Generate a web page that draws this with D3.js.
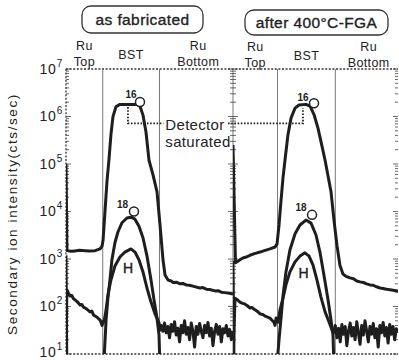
<!DOCTYPE html>
<html>
<head>
<meta charset="utf-8">
<script src="https://cdn.jsdelivr.net/npm/d3@7"></script>
<style>
  body { margin: 0; background: #fff; }
  text { font-family: "Liberation Sans", Arial, sans-serif; fill: #222; }
</style>
</head>
<body>
<div id="chart"></div>
<script>
// SIMS depth profiles, x = sputter time (arbitrary, 0-100 per panel), y = counts/sec
const panelTitles = ["as fabricated", "after 400\u00b0C-FGA"];
const layerEdges = [[22, 56], [27, 62]]; // Ru top / BST / Ru bottom boundaries
const layerNames = [["Ru", "Top"], ["BST"], ["Ru", "Bottom"]];
const yTicks = [1e1, 1e2, 1e3, 1e4, 1e5, 1e6, 1e7];

const left16O = [[0,1e5],[0.6,1500],[3,1450],[5.4,1480],[8,1520],[11.4,1500],[14,1470],[17.4,1500],
  [20.4,1630],[21.6,1870],[22.2,2500],[23.4,1.07e4],[24.6,4.6e4],[25.7,1.2e5],[26.9,4.1e5],[28.1,9.8e5],
  [29.9,1.6e6],[32.3,1.8e6],[42.5,1.8e6],[44.3,1.65e6],[46.1,1.07e6],[47.9,4.7e5],[49.7,1.2e5],[52.1,5.9e4],
  [54.5,2.6e4],[56.3,5.2e3],[58.1,950],[59.3,460],[61.1,360],[63,345],[64,320],[66,325],[68.3,300],[70,305],
  [72,285],[74,280],[77,262],[80.2,245],[82,250],[84,232],[86,228],[89.2,213],[91,215],[93,200],[95,196],
  [97,192],[100,183]];
const left18O = [[0,1200],[0.5,5],[22.5,5],[23.4,20],[24,52],[25.1,150],[26.3,360],[27.5,960],[29.3,2200],
  [31.1,3700],[33.5,5800],[36.5,7300],[38.9,7600],[41.3,6900],[43.7,4900],[46.1,2800],[48.5,1150],
  [50.9,360],[52.7,138],[54.5,57],[55.7,25],[56.3,5],[100,5]];
const leftH = [[0,5],[0.5,225],[1.5,190],[2.4,166],[3.5,170],[4.5,145],[5.4,138],[6.5,128],[7.5,118],
  [8.4,107],[9.5,110],[10.5,96],[11.4,93],[12.5,88],[13.5,82],[14.4,77],[15.5,80],[16.5,66],[17.4,63],
  [18.5,60],[19.5,55],[20.4,52],[21,46],[21.6,40],[22.2,48],[22.8,47],[24,85],[25.1,175],[26.9,360],
  [29.3,710],[32.3,1100],[35.3,1400],[38.9,1630],[41.3,1400],[43.7,960],[46.1,535],[48.5,245],[50.9,124],
  [53.3,70],[55.7,45],[56.5,32],[57,40],[58,30],[59,45],[60,28],[61,38],[62,22],[63,42],[64,30],[65,48],
  [66,25],[67,35],[68,18],[69,40],[70,28],[71,50],[72,26],[73,36],[74,20],[75,45],[76,30],[77,14],[78,38],
  [79,26],[80,44],[81,30],[82,22],[83,40],[84,28],[85,46],[86,24],[87,35],[88,15],[89,30],[90,42],[91,26],
  [92,38],[93,18],[94,34],[95,28],[96,40],[97,24],[98,33],[99,20],[100,30]];

const right16O = [[0,2.5e5],[1.5,830],[3,900],[4.2,960],[6,1050],[8,1100],[10.3,1200],[13,1300],[16.4,1400],
  [19,1500],[22.4,1630],[25.5,1790],[26.7,2100],[27.9,5200],[29.1,1.7e4],[30.3,5.1e4],[31.5,1.2e5],
  [33.3,4.1e5],[35.2,9.3e5],[37.6,1.5e6],[40,1.75e6],[44.2,1.8e6],[46.7,1.65e6],[49.1,1.1e6],[51.5,5.7e5],
  [53.9,2.4e5],[55.8,1.2e5],[57.6,5.6e4],[59.4,2.6e4],[61.2,6600],[63,1950],[64.8,740],[66.7,480],
  [68.5,430],[70.9,400],[73,385],[75,345],[77,330],[79,320],[81,300],[83,285],[85,280],[87,260],
  [89.1,245],[91,240],[93,230],[95.2,225],[97,220],[100,213]];
const right18O = [[0,900],[0.6,5],[26.5,5],[27.9,20],[29.1,57],[30.3,166],[32.1,535],[34.5,1550],
  [37.6,3400],[40.6,5200],[44.2,6600],[47.3,5700],[50.3,3200],[52.7,1400],[55.2,440],[57.6,138],
  [59.4,52],[60.6,25],[61.2,5],[100,5]];
const rightH = [[0,5],[1.2,150],[2.5,140],[4.2,124],[5.5,118],[7.3,112],[8.5,105],[10.3,93],[11.5,95],
  [13.3,85],[15,78],[16.4,70],[18,68],[19.4,63],[21,60],[22.4,57],[23.5,52],[24.8,47],[25.5,40],[26.1,57],
  [27.3,47],[28.5,85],[30.3,150],[32.1,285],[34.5,535],[37.6,870],[40.6,1150],[43.6,1350],[46.1,1150],
  [48.5,740],[50.9,360],[53.3,158],[55.8,77],[58.2,47],[60,32],[61,28],[62,40],[63,22],[64,35],[65,18],
  [66,42],[67,26],[68,38],[69,15],[70,30],[71,45],[72,24],[73,36],[74,20],[75,48],[76,28],[77,16],[78,40],
  [79,25],[80,50],[81,30],[82,18],[83,38],[84,26],[85,44],[86,22],[87,34],[88,14],[89,40],[90,28],[91,46],
  [92,24],[93,36],[94,17],[95,42],[96,26],[97,38],[98,20],[99,34],[100,28]];

// annotation anchors in data units: [t, counts]
const label16 = [[38.9, 2.45e6], [42.4, 2.15e6]];
const circle16 = [[44.3, 2.02e6], [49.1, 1.9e6]];
const label18 = [[33.8, 1.18e4], [41.2, 1.02e4]];
const circle18 = [[40.7, 1.0e4], [47.9, 8.5e3]];
const labelH = [[37.1, 507], [42.7, 398]];

const series = [[left16O, left18O, leftH], [right16O, right18O, rightH]];

const W = 399, H = 360;
const plotTop = 69, plotBottom = 354;
const panelX = [[66, 233], [233, 398]];

const svg = d3.select("#chart").append("svg")
  .attr("width", W).attr("height", H);

const y = d3.scaleLog().domain([10, 1e7]).range([plotBottom, plotTop]);
const xs = panelX.map(r => d3.scaleLinear().domain([0, 100]).range(r));

const line = x => d3.line().x(d => x(d[0])).y(d => y(d[1]));

// clip paths
panelX.forEach((r, i) => {
  svg.append("clipPath").attr("id", "clip" + i)
    .append("rect").attr("x", r[0]).attr("y", plotTop).attr("width", r[1] - r[0]).attr("height", plotBottom - plotTop);
});

// minor/major ticks
const minor = [];
for (let e = 1; e < 7; e++) for (let m = 2; m <= 9; m++) minor.push(m * Math.pow(10, e));

function tickSet(xpos, dirs) {
  const g = svg.append("g").attr("stroke", "#444").attr("stroke-width", 0.8);
  dirs.forEach(dir => {
    g.selectAll(null).data(yTicks).join("line")
      .attr("x1", xpos).attr("x2", xpos + dir * 5)
      .attr("y1", d => y(d)).attr("y2", d => y(d));
    g.selectAll(null).data(minor).join("line")
      .attr("x1", xpos).attr("x2", xpos + dir * 3)
      .attr("y1", d => y(d)).attr("y2", d => y(d));
  });
}

// frame: dotted top, bottom, left
const dotted = svg.append("g").attr("stroke", "#333").attr("stroke-width", 1.3)
  .attr("stroke-dasharray", "2,1.6").attr("fill", "none");
dotted.append("line").attr("x1", 66).attr("x2", 398).attr("y1", plotTop).attr("y2", plotTop);
dotted.append("line").attr("x1", 66).attr("x2", 398).attr("y1", plotBottom).attr("y2", plotBottom);
dotted.append("line").attr("x1", 66).attr("x2", 66).attr("y1", plotTop).attr("y2", plotBottom);

svg.append("line").attr("x1", 233).attr("x2", 233).attr("y1", plotTop).attr("y2", plotBottom)
  .attr("stroke", "#555").attr("stroke-width", 0.8);

tickSet(66, [1]);
tickSet(233, [1, -1]);
tickSet(398, [-1]);

// layer boundaries and names
layerEdges.forEach((edges, i) => {
  const x = xs[i];
  svg.append("g").selectAll("line").data(edges).join("line")
    .attr("x1", d => x(d)).attr("x2", d => x(d))
    .attr("y1", plotTop).attr("y2", plotBottom)
    .attr("stroke", "#777").attr("stroke-width", 1);

  const centers = [(0 + edges[0]) / 2, (edges[0] + edges[1]) / 2, (edges[1] + 100) / 2];
  layerNames.forEach((lines, k) => {
    const t = svg.append("text").attr("text-anchor", "middle")
      .attr("font-size", 12.5).attr("letter-spacing", 0.4);
    lines.forEach((s, j) => {
      const yy = lines.length === 1 ? 59 : (j === 0 ? 50 : 66);
      t.append("tspan").attr("x", x(centers[k]) + (k === 2 ? 2 : 0)).attr("y", yy + i).text(s);
    });
  });
});

// curves
series.forEach((ss, i) => {
  const g = svg.append("g").attr("clip-path", `url(#clip${i})`);
  g.selectAll("path").data(ss).join("path")
    .attr("d", d => line(xs[i])(d))
    .attr("fill", "none").attr("stroke", "#1e1e1e")
    .attr("stroke-width", 3).attr("stroke-linejoin", "round");
});

// isotope annotations
[0, 1].forEach(i => {
  const x = xs[i];
  [[label16, "16"], [label18, "18"]].forEach(([arr, s]) => {
    svg.append("text").attr("x", x(arr[i][0])).attr("y", y(arr[i][1]))
      .attr("text-anchor", "middle").attr("font-size", 10).attr("font-weight", "bold").text(s);
  });
  [circle16, circle18].forEach(arr => {
    svg.append("circle").attr("cx", x(arr[i][0])).attr("cy", y(arr[i][1])).attr("r", 4.5)
      .attr("fill", "#fff").attr("stroke", "#222").attr("stroke-width", 1.5);
  });
  svg.append("text").attr("x", x(labelH[i][0])).attr("y", y(labelH[i][1]))
    .attr("text-anchor", "middle").attr("font-size", 14).attr("stroke", "#222").attr("stroke-width", 0.4)
    .text("H");
});

// detector saturated
const satY = y(7.2e5);
const sat = svg.append("g").attr("stroke", "#222").attr("stroke-width", 1.8)
  .attr("stroke-dasharray", "1.6,1.6").attr("fill", "none");
sat.append("path").attr("d", `M${xs[0](37.1)},${y(1.58e6)}V${satY}H${xs[0](58.3)}`);
sat.append("path").attr("d", `M${xs[0](97)},${satY}H${xs[1](42.4)}V${y(1.5e6)}`);
const st = svg.append("text").attr("font-size", 15).attr("letter-spacing", 0.3);
st.append("tspan").attr("x", xs[0](59.5)).attr("y", 130).text("Detector");
st.append("tspan").attr("x", xs[0](59.5)).attr("y", 147).text("saturated");

// y tick labels
const yl = svg.append("g");
yTicks.forEach(v => {
  const t = yl.append("text").attr("x", 63).attr("y", Math.min(y(v) + 4.5, 356.5)).attr("text-anchor", "end")
    .attr("font-size", 14).attr("letter-spacing", 0.8);
  t.append("tspan").text("10");
  t.append("tspan").attr("dy", -7).attr("font-size", 10).text(Math.log10(v));
});

svg.append("text")
  .attr("transform", `translate(17,214) rotate(-90)`)
  .attr("text-anchor", "middle").attr("font-size", 13.5).attr("letter-spacing", 1.6)
  .text("Secondary ion intensity(cts/sec)");

// panel titles
const titleBoxes = [[82, 6, 121, 27], [245, 10, 143, 25]];
panelTitles.forEach((s, i) => {
  const b = titleBoxes[i];
  svg.append("rect").attr("x", b[0]).attr("y", b[1]).attr("width", b[2]).attr("height", b[3])
    .attr("rx", 9).attr("fill", "#fff").attr("stroke", "#333").attr("stroke-width", 1.3);
  svg.append("text").attr("x", b[0] + b[2] / 2).attr("y", b[1] + b[3] / 2 + 5.5)
    .attr("text-anchor", "middle").attr("font-size", 15.5).attr("letter-spacing", 0.4)
    .attr("stroke", "#222").attr("stroke-width", 0.35).text(s);
});
</script>
</body>
</html>
